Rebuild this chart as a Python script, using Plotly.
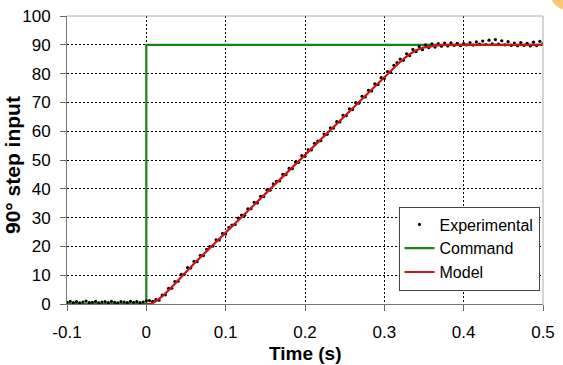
import numpy as np
import plotly.graph_objects as go

# ---- data ----
exp_t0 = -0.1
exp_dt = 0.004
exp_y = [
    0.6, 0.9, 0.5, 0.8, 0.4, 0.7, 1.0, 0.5, 0.6, 0.9, 0.4, 0.7, 0.8, 0.5, 0.9, 0.6, 0.4, 0.8, 0.7, 0.5,
    0.9, 0.6, 0.8, 0.5, 0.7,
    1.1,
    1.2, 0.9, 1.5, 1.3, 3.1, 3.2, 5.4, 5.5, 7.8, 7.9,
    10.3, 10.4, 12.6, 12.5, 14.8, 14.7, 16.9, 16.8, 19.0, 19.9,
    20.1, 22.3, 22.2, 24.5, 24.3, 26.6, 27.4, 27.6, 29.8, 30.9,
    30.8, 33.0, 33.1, 35.3, 35.1, 37.4, 37.3, 39.6, 39.5, 41.7,
    42.6, 42.7, 45.0, 44.9, 47.1, 47.0, 49.3, 49.2, 51.5, 51.3,
    53.6, 53.5, 55.8, 56.6, 56.7, 59.0, 58.9, 61.2, 61.1, 63.3,
    63.2, 65.5, 65.4, 67.8, 67.5, 69.9, 69.7, 72.1, 71.9, 74.2,
    74.0, 76.4, 76.2, 78.6, 78.3, 80.7, 80.5, 82.9, 83.8, 85.0,
    84.6, 86.9, 86.2, 88.4, 87.6, 89.4, 88.3, 90.0, 89.0, 90.3,
    89.2, 90.4, 89.5, 90.6, 89.6, 90.7, 89.8, 90.5, 89.7, 90.4,
    90.0, 90.8, 89.9, 91.0, 90.2, 91.3, 90.1, 91.6, 90.3, 91.8,
    90.2, 91.4, 90.0, 91.1, 89.8, 90.6, 89.7, 90.8, 89.8, 90.5,
    89.6, 90.9, 89.7, 91.2, 90.4,
]
exp_t = np.round(exp_t0 + exp_dt * np.arange(len(exp_y)), 4)

cmd_t = [-0.1, 0.0, 0.0, 0.5]
cmd_y = [0, 0, 90, 90]

model_t = [0.0, 0.005, 0.01, 0.02, 0.03, 0.04, 0.05, 0.06, 0.07, 0.08, 0.09, 0.10, 0.11, 0.12, 0.13,
           0.14, 0.15, 0.16, 0.17, 0.18, 0.19, 0.20, 0.21, 0.22, 0.23, 0.24, 0.25, 0.26, 0.27,
           0.28, 0.29, 0.30, 0.31, 0.32, 0.33, 0.34, 0.35, 0.36, 0.37, 0.38, 0.40, 0.45, 0.50]
model_y = [0.0, 0.0, 0.6, 2.6, 5.3, 8.2, 11.3, 14.0, 16.7, 19.4, 22.1, 24.8, 27.5, 30.2, 32.9,
           35.6, 38.3, 41.0, 43.7, 46.4, 49.1, 51.8, 54.5, 57.2, 59.9, 62.6, 65.3, 68.0, 70.7,
           73.4, 76.1, 78.8, 81.5, 84.1, 86.4, 88.1, 89.1, 89.6, 89.9, 90.0, 90.0, 90.0, 90.0]

x_ticks = [-0.1, 0, 0.1, 0.2, 0.3, 0.4, 0.5]
x_labels = ["-0.1", "0", "0.1", "0.2", "0.3", "0.4", "0.5"]
y_ticks = [0, 10, 20, 30, 40, 50, 60, 70, 80, 90, 100]
x_title = "Time (s)"
y_title = "90° step input"

FONT = "Liberation Sans, Arial, sans-serif"
W, H = 563, 365
ML, MR, MT, MB = 67, 20, 16, 61
PW, PH = W - ML - MR, H - MT - MB

fig = go.Figure()
fig.add_trace(go.Scatter(x=cmd_t, y=cmd_y, mode="lines", name="Command",
                         line=dict(color="#1a841a", width=2.2), legendrank=2))
fig.add_trace(go.Scatter(x=exp_t, y=exp_y, mode="markers", name="Experimental",
                         marker=dict(color="black", size=3.2), legendrank=1))
fig.add_trace(go.Scatter(x=model_t, y=model_y, mode="lines", name="Model",
                         line=dict(color="#cc1414", width=2.2), legendrank=3))

grid = dict(showgrid=True, gridcolor="black", gridwidth=1, griddash="2px,2px")

fig.update_layout(
    width=W, height=H,
    margin=dict(l=ML, r=MR, t=MT, b=MB, autoexpand=False),
    paper_bgcolor="white", plot_bgcolor="white",
    font=dict(family=FONT, size=17, color="black"),
    showlegend=True,
    legend=dict(x=(469 - ML) / PW, y=(MT + PH - 248.5) / PH, xanchor="center", yanchor="middle",
                bgcolor="white", bordercolor="#444", borderwidth=1,
                font=dict(size=16), tracegroupgap=0, itemwidth=30),
    xaxis=dict(range=[-0.1, 0.5], tickvals=x_ticks, ticktext=x_labels,
               ticks="outside", ticklen=6, tickcolor="#666", showline=True,
               linecolor="#777", linewidth=1, zeroline=False, automargin=False,
               ticklabelstandoff=7, **grid),
    yaxis=dict(range=[0, 100], tickvals=y_ticks,
               ticks="outside", ticklen=6, tickcolor="#666", showline=True,
               linecolor="#777", linewidth=1, zeroline=False, automargin=False,
               ticklabelstandoff=6, **grid),
    annotations=[
        dict(text="<b>" + x_title + "</b>", xref="paper", yref="paper",
             x=(305 - ML) / PW, y=-(353 - MT - PH) / PH, xanchor="center", yanchor="middle",
             showarrow=False, font=dict(size=19)),
        dict(text="<b>" + y_title + "</b>", xref="paper", yref="paper",
             x=-(ML - 12) / PW, y=(MT + PH - 165) / PH, xanchor="center", yanchor="middle",
             textangle=-90, showarrow=False, font=dict(size=21)),
    ],
    shapes=[
        dict(type="line", xref="paper", yref="paper", x0=0, x1=1, y0=1, y1=1,
             line=dict(color="#aaaaaa", width=1)),
        dict(type="line", xref="paper", yref="paper", x0=1, x1=1, y0=0, y1=1,
             line=dict(color="#aaaaaa", width=1)),
        dict(type="circle", xref="paper", yref="paper",
             x0=(550 - ML) / PW, x1=(590 - ML) / PW,
             y0=(MT + PH - 11) / PH, y1=(MT + PH + 26) / PH,
             fillcolor="#f3b545", line=dict(width=0), opacity=0.75),
    ],
)

fig.write_html("out.html", config={"displayModeBar": False},
               post_script="document.body.style.margin='0';document.body.style.overflow='hidden';")
